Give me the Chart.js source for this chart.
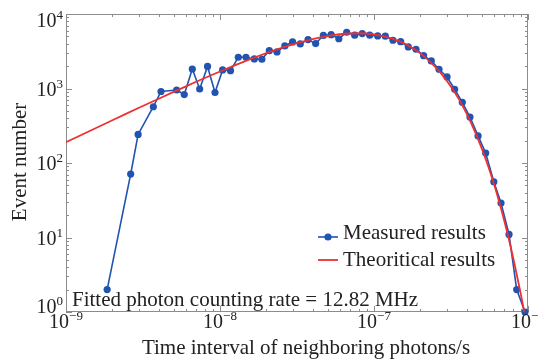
<!DOCTYPE html>
<html>
<head>
<meta charset="utf-8">
<script src="https://cdn.jsdelivr.net/npm/chart.js@4.4.1/dist/chart.umd.min.js"></script>
<style>
  html, body { margin: 0; padding: 0; background: #fff; }
</style>
</head>
<body>
<canvas id="chart" width="538" height="361"></canvas>
<script>
  // Measured interval histogram
  const measuredX = [1.85e-9, 2.63e-9, 2.94e-9, 3.69e-9, 4.14e-9, 5.23e-9, 5.86e-9, 6.61e-9, 7.38e-9, 8.30e-9, 9.28e-9,
    1.04e-8, 1.17e-8, 1.315e-8, 1.475e-8, 1.67e-8, 1.87e-8, 2.09e-8, 2.345e-8, 2.635e-8, 2.96e-8, 3.32e-8, 3.73e-8, 4.18e-8,
    4.69e-8, 5.27e-8, 5.91e-8, 6.65e-8, 7.49e-8, 8.39e-8, 9.38e-8,
    1.057e-7, 1.184e-7, 1.328e-7, 1.49e-7, 1.67e-7, 1.874e-7, 2.10e-7, 2.355e-7, 2.643e-7, 2.98e-7, 3.34e-7, 3.744e-7,
    4.20e-7, 4.74e-7, 5.31e-7, 6.0e-7, 6.68e-7, 7.53e-7, 8.445e-7, 9.56e-7];
  const measuredY = [2, 71, 242, 569, 912, 955, 830, 1828, 985, 1977, 884,
    1774, 1734, 2626, 2626, 2493, 2468, 3222, 3096, 3726, 4218, 3965, 4530, 4003,
    5155, 5286, 4656, 5691, 5190, 5453, 5190,
    5080, 5034, 4446, 4256, 3612, 3365, 2760, 2342, 1812, 1428, 976, 653,
    414, 231, 136, 56, 29, 11, 2, 1];

  // Theoretical curve, sampled along the red line
  const theoryX = [1e-9, 2e-9, 3e-9, 5e-9, 7e-9, 1e-8, 1.5e-8, 2e-8, 3e-8, 4e-8, 5e-8, 6e-8, 7.8e-8,
    1e-7, 1.3e-7, 1.6e-7, 2e-7, 2.5e-7, 3e-7, 3.5e-7, 4e-7, 4.5e-7, 5e-7, 5.5e-7, 6e-7, 6.5e-7,
    7e-7, 7.5e-7, 8e-7, 8.5e-7, 9e-7, 9.5e-7, 1e-6];
  const theoryY = [190, 375, 555, 900, 1230, 1690, 2380, 2980, 3930, 4610, 5060, 5350, 5520,
    5340, 4720, 3960, 2960, 1950, 1230, 760, 456, 270, 158, 92, 53, 30,
    17, 9.6, 5.4, 3.0, 1.7, 0.94, 0.5];

  const xTickExps = [-9, -8, -7, -6];
  const yTickExps = [0, 1, 2, 3, 4];
  const minorSteps = [2, 3, 4, 5, 6, 7, 8, 9];

  const BLUE = '#2153b0';
  const RED = '#f03030';
  const TEXT = '#222';
  const FONT = '"Liberation Serif", "Times New Roman", serif';

  function drawPow(ctx, exp, left, baseline) {
    ctx.font = '20px ' + FONT;
    ctx.fillText('10', left, baseline);
    const w = ctx.measureText('10').width;
    ctx.font = '13px ' + FONT;
    ctx.fillText(String(exp).replace('-', '\u2212'), left + w, baseline - 8);
  }

  function powWidth(ctx, exp) {
    ctx.font = '20px ' + FONT;
    const w1 = ctx.measureText('10').width;
    ctx.font = '13px ' + FONT;
    return w1 + ctx.measureText(String(exp).replace('-', '\u2212')).width;
  }

  const framePlugin = {
    id: 'frame',
    beforeDatasetsDraw(chart) {
      const { ctx, chartArea: a, scales: { x, y } } = chart;
      ctx.save();
      ctx.strokeStyle = '#8c8c8c';
      ctx.lineWidth = 1;
      ctx.strokeRect(a.left + 0.5, a.top + 0.5, a.right - a.left - 1, a.bottom - a.top - 1);
      ctx.beginPath();
      xTickExps.forEach((e, i) => {
        const px = Math.round(x.getPixelForValue(Math.pow(10, e))) + 0.5;
        ctx.moveTo(px, a.bottom); ctx.lineTo(px, a.bottom - 6);
        ctx.moveTo(px, a.top); ctx.lineTo(px, a.top + 6);
        if (i < xTickExps.length - 1) {
          minorSteps.forEach(m => {
            const p = Math.round(x.getPixelForValue(m * Math.pow(10, e))) + 0.5;
            ctx.moveTo(p, a.bottom); ctx.lineTo(p, a.bottom - 3);
            ctx.moveTo(p, a.top); ctx.lineTo(p, a.top + 3);
          });
        }
      });
      yTickExps.forEach((e, i) => {
        const py = Math.round(y.getPixelForValue(Math.pow(10, e))) + 0.5;
        ctx.moveTo(a.left, py); ctx.lineTo(a.left + 6, py);
        ctx.moveTo(a.right, py); ctx.lineTo(a.right - 6, py);
        if (i < yTickExps.length - 1) {
          minorSteps.forEach(m => {
            const p = Math.round(y.getPixelForValue(m * Math.pow(10, e))) + 0.5;
            ctx.moveTo(a.left, p); ctx.lineTo(a.left + 3, p);
            ctx.moveTo(a.right, p); ctx.lineTo(a.right - 3, p);
          });
        }
      });
      ctx.stroke();
      ctx.restore();
    },
    afterDraw(chart) {
      const { ctx, chartArea: a, scales: { x, y } } = chart;
      ctx.save();
      ctx.fillStyle = TEXT;
      ctx.textAlign = 'left';
      ctx.textBaseline = 'alphabetic';

      // tick labels
      xTickExps.forEach(e => {
        const px = x.getPixelForValue(Math.pow(10, e));
        drawPow(ctx, e, px - powWidth(ctx, e) / 2, 328);
      });
      yTickExps.forEach(e => {
        const py = y.getPixelForValue(Math.pow(10, e));
        const base = Math.min(Math.max(py + 7, 27), 313);
        drawPow(ctx, e, a.left - 3 - powWidth(ctx, e), base);
      });

      // axis titles
      ctx.font = '21px ' + FONT;
      ctx.textAlign = 'center';
      ctx.fillText('Time interval of neighboring photons/s', 306, 354);
      ctx.save();
      ctx.translate(26, 162);
      ctx.rotate(-Math.PI / 2);
      ctx.fillText('Event number', 0, 0);
      ctx.restore();

      // annotation
      ctx.textAlign = 'left';
      ctx.fillText('Fitted photon counting rate = 12.82 MHz', 72, 306);

      // legend
      ctx.fillText('Measured results', 343, 239);
      ctx.fillText('Theoritical results', 343, 266);
      ctx.lineWidth = 1.6;
      ctx.strokeStyle = BLUE;
      ctx.beginPath(); ctx.moveTo(318, 237); ctx.lineTo(338, 237); ctx.stroke();
      ctx.fillStyle = BLUE;
      ctx.beginPath(); ctx.arc(328, 237, 3.6, 0, Math.PI * 2); ctx.fill();
      ctx.strokeStyle = RED;
      ctx.lineWidth = 1.8;
      ctx.beginPath(); ctx.moveTo(318, 260); ctx.lineTo(338, 260); ctx.stroke();
      ctx.restore();
    }
  };

  new Chart(document.getElementById('chart').getContext('2d'), {
    type: 'line',
    data: {
      datasets: [
        {
          label: 'Theoritical results',
          data: theoryX.map((v, i) => ({ x: v, y: theoryY[i] })),
          borderColor: RED,
          borderWidth: 1.8,
          pointRadius: 0,
          tension: 0.3,
          order: 0
        },
        {
          label: 'Measured results',
          data: measuredX.map((v, i) => ({ x: v, y: measuredY[i] })),
          borderColor: BLUE,
          backgroundColor: BLUE,
          borderWidth: 1.6,
          pointRadius: 3.6,
          pointBorderWidth: 0,
          tension: 0,
          clip: false,
          order: 1
        }
      ]
    },
    options: {
      responsive: false,
      animation: false,
      layout: { padding: { left: 66, top: 14, right: 10, bottom: 49 } },
      plugins: {
        legend: { display: false },
        tooltip: { enabled: false }
      },
      scales: {
        x: { type: 'logarithmic', min: 1e-9, max: 1e-6, display: false },
        y: { type: 'logarithmic', min: 1, max: 1e4, display: false }
      }
    },
    plugins: [framePlugin]
  });
</script>
</body>
</html>
